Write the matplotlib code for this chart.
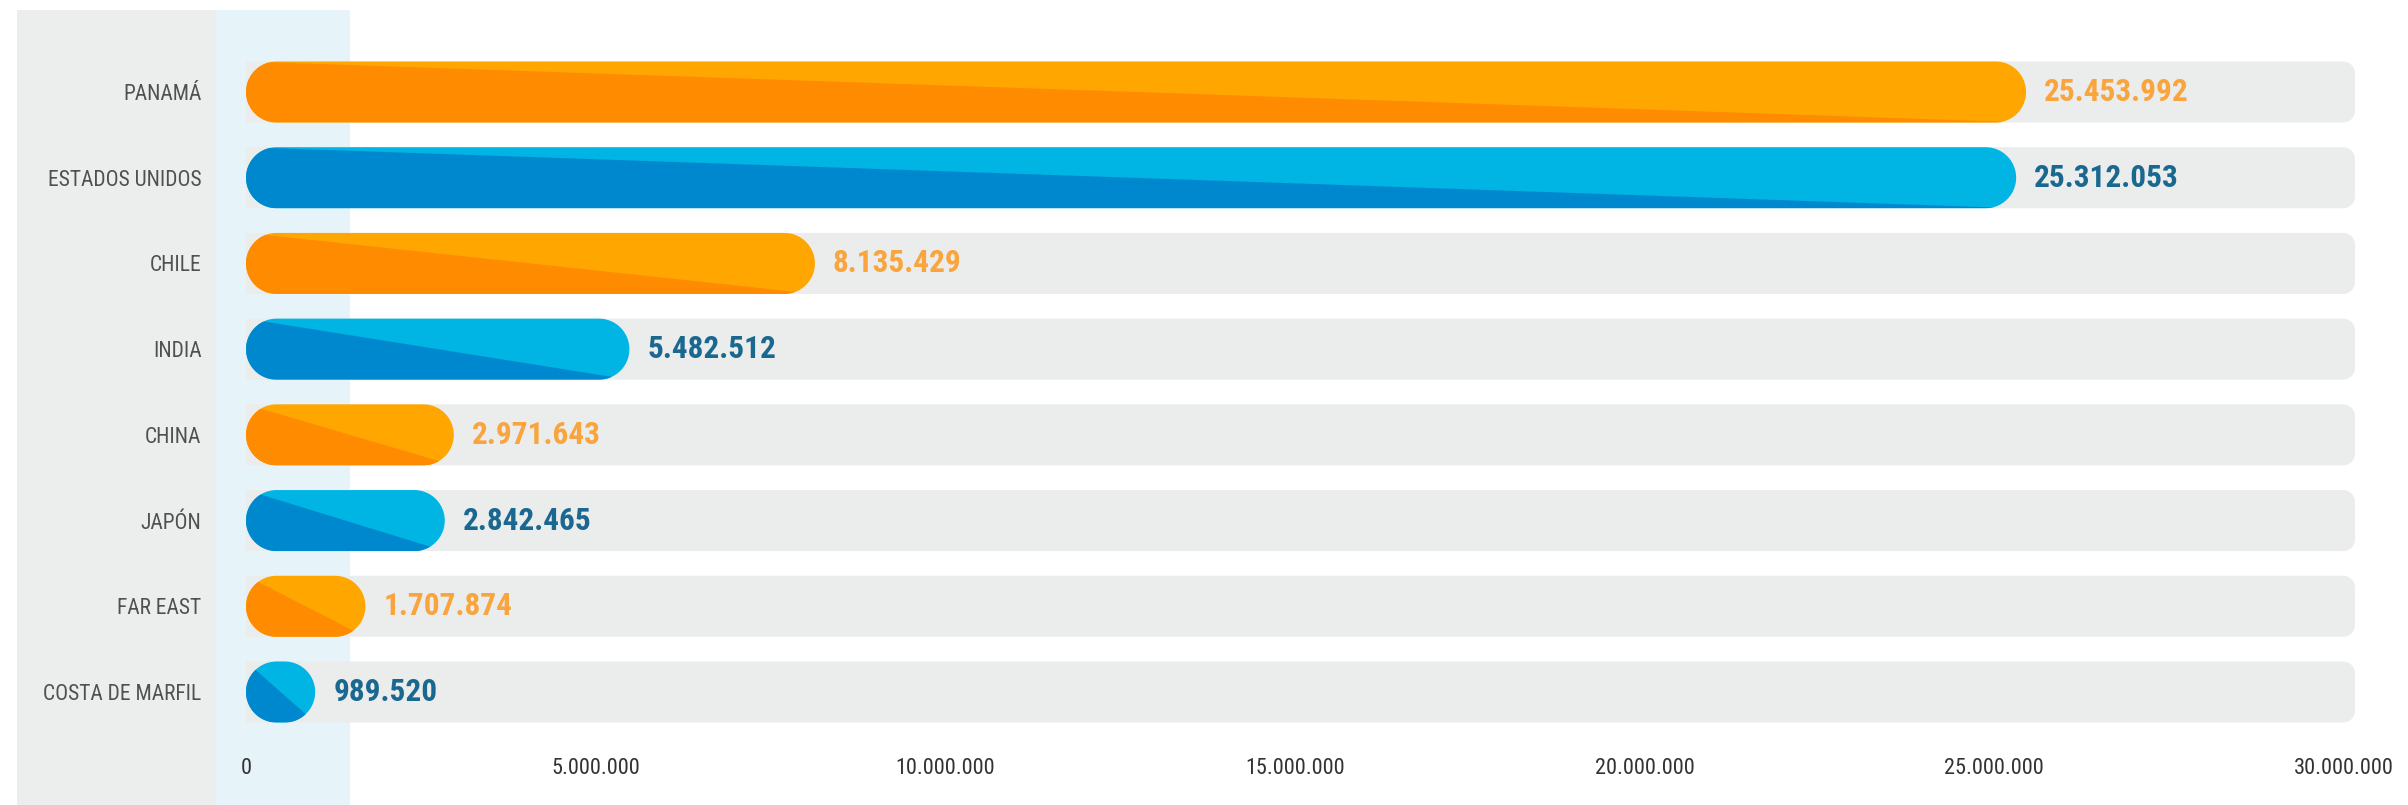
import matplotlib

matplotlib.use("Agg")

import numpy as np
import matplotlib.pyplot as plt
from matplotlib.patches import PathPatch, Polygon, Rectangle
from matplotlib.path import Path
from matplotlib.ticker import FuncFormatter, MultipleLocator

plt.rcParams["font.family"] = ["Roboto Condensed", "DejaVu Sans"]
plt.rcParams["font.stretch"] = "condensed"

# --- data -----------------------------------------------------------------
countries = [
    "PANAMÁ",
    "ESTADOS UNIDOS",
    "CHILE",
    "INDIA",
    "CHINA",
    "JAPÓN",
    "FAR EAST",
    "COSTA DE MARFIL",
]
values = [25453992, 25312053, 8135429, 5482512, 2971643, 2842465, 1707874, 989520]
x_max = 30_000_000
x_step = 5_000_000

# --- style ----------------------------------------------------------------
ORANGE_DARK, ORANGE_LIGHT, ORANGE_TEXT = "#FF8B00", "#FFA600", "#F9A43C"
BLUE_DARK, BLUE_LIGHT, BLUE_TEXT = "#0088CF", "#00B4E4", "#1A6890"
TRACK = "#EBECEC"
PANEL_GRAY = "#ECEDED"
PANEL_BLUE = "#E6F4FA"

W, H, DPI = 2408, 805, 100
AX_LEFT, AX_RIGHT = 246, 2344          # pixel x of 0 and x_max
ROW_TOP, ROW_BOTTOM = 92, 692          # pixel y of first / last row centre
BAR_H = 0.712                          # in row units
TRACK_EXTRA_PX = 11
TRACK_RADIUS_PX = 12


def _fmt(v, _pos=None):
    return f"{int(v):,}".replace(",", ".")


def _arc(cx, cy, rx, ry, a0, a1, n=40):
    t = np.linspace(np.radians(a0), np.radians(a1), n)
    return np.column_stack([cx + rx * np.cos(t), cy + ry * np.sin(t)])


def pill_path(x0, x1, yc, h, rx):
    # y axis is inverted, so yc - h/2 is the visual top
    rx = min(rx, (x1 - x0) / 2)
    ry = h / 2
    left = _arc(x0 + rx, yc, rx, ry, 90, 270)
    right = _arc(x1 - rx, yc, rx, ry, 270, 450)
    pts = np.vstack([left, right, left[:1]])
    return Path(pts, closed=True)


def track_path(x0, x1, yc, h, rx, ry):
    top, bot = yc - h / 2, yc + h / 2
    c1 = _arc(x1 - rx, top + ry, rx, ry, 270, 360, 15)
    c2 = _arc(x1 - rx, bot - ry, rx, ry, 0, 90, 15)
    pts = np.vstack([[[x0, top]], c1, c2, [[x0, bot]], [[x0, top]]])
    return Path(pts, closed=True)


fig = plt.figure(figsize=(W / DPI, H / DPI), dpi=DPI, facecolor="white")

# background panels behind the category labels
fig.add_artist(Rectangle((17 / W, 0), 199 / W, 795 / H, transform=fig.transFigure,
                         facecolor=PANEL_GRAY, edgecolor="none", zorder=0))
fig.add_artist(Rectangle((216 / W, 0), 134 / W, 795 / H, transform=fig.transFigure,
                         facecolor=PANEL_BLUE, edgecolor="none", zorder=0))

n = len(countries)
row_px = (ROW_BOTTOM - ROW_TOP) / (n - 1)
ax_top_px = ROW_TOP - row_px / 2
ax_bot_px = ROW_BOTTOM + row_px / 2
ax = fig.add_axes([AX_LEFT / W, 1 - ax_bot_px / H,
                   (AX_RIGHT - AX_LEFT) / W, (ax_bot_px - ax_top_px) / H])
ax.set_facecolor("none")
ax.set_xlim(0, x_max)
ax.set_ylim(n - 0.5, -0.5)

px_per_x = (AX_RIGHT - AX_LEFT) / x_max
px_per_y = row_px
cap_rx = (BAR_H * px_per_y / 2) / px_per_x
track_end = x_max + TRACK_EXTRA_PX / px_per_x
track_rx = TRACK_RADIUS_PX / px_per_x
track_ry = TRACK_RADIUS_PX / px_per_y

for i, (name, v) in enumerate(zip(countries, values)):
    orange = i % 2 == 0
    dark = ORANGE_DARK if orange else BLUE_DARK
    light = ORANGE_LIGHT if orange else BLUE_LIGHT
    txt = ORANGE_TEXT if orange else BLUE_TEXT

    ax.add_patch(PathPatch(track_path(0, track_end, i, BAR_H, track_rx, track_ry),
                           facecolor=TRACK, edgecolor="none", clip_on=False, zorder=1))

    pill = PathPatch(pill_path(0, v, i, BAR_H, cap_rx),
                     facecolor=light, edgecolor="none", zorder=2)
    ax.add_patch(pill)

    # darker half: below the bounding-box diagonal
    top, bot = i - BAR_H / 2, i + BAR_H / 2
    tri = Polygon([(0, top), (v, bot), (0, bot)],
                  closed=True, facecolor=dark, edgecolor="none", zorder=3)
    tri.set_clip_path(pill)
    ax.add_patch(tri)

    ax.annotate(_fmt(v), xy=(v, i), xytext=(18, 0), textcoords="offset pixels",
                ha="left", va="center", fontsize=22.5, fontweight="bold", color=txt,
                zorder=4)

ax.set_yticks(range(n))
ax.set_yticklabels(countries, fontsize=15.5, color="#505050")
ax.xaxis.set_major_locator(MultipleLocator(x_step))
ax.xaxis.set_major_formatter(FuncFormatter(_fmt))
ax.tick_params(axis="x", length=0, pad=17, labelsize=16, labelcolor="#333333")
ax.tick_params(axis="y", length=0, pad=32)
for s in ax.spines.values():
    s.set_visible(False)

fig.savefig("out.png", dpi=DPI, facecolor="white")
